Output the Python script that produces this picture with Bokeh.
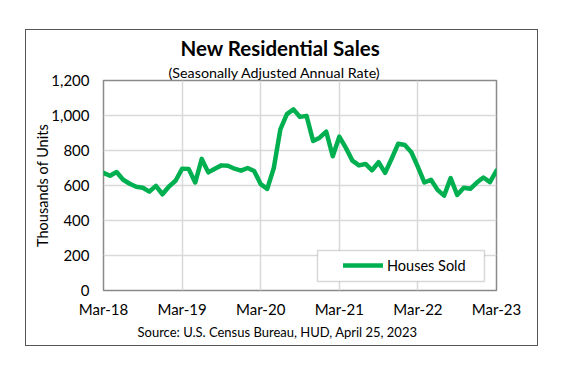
from bokeh.plotting import figure
from bokeh.models import (FixedTicker, NumeralTickFormatter, Legend,
                          BoxAnnotation, Range1d, Title)
from bokeh.embed import file_html
from bokeh.resources import INLINE

# ---- data ----
title_text = "New Residential Sales"
subtitle_text = "(Seasonally Adjusted Annual Rate)"
source_text = "Source:  U.S. Census Bureau, HUD, April 25, 2023"
series_name = "Houses Sold"
y_label = "Thousands of Units"

# monthly sales, Mar-2018 .. Mar-2023 (thousands, SAAR)
houses_sold = [
    672, 656, 677, 633, 610, 593, 587, 565, 598, 550, 594, 627,   # Mar-18..Feb-19
    696, 695, 617, 752, 675, 696, 715, 713, 696, 685, 700, 683,   # Mar-19..Feb-20
    608, 581, 700, 921, 1008, 1035, 992, 998, 854, 873, 908, 767, # Mar-20..Feb-21
    879, 815, 742, 715, 723, 687, 733, 672, 754, 839, 831, 790,   # Mar-21..Feb-22
    706, 617, 633, 575, 542, 642, 546, 587, 581, 617, 646, 619,   # Mar-22..Feb-23
    685,                                                          # Mar-23
]
month_index = list(range(len(houses_sold)))
x_tick_positions = [0, 12, 24, 36, 48, 60]
x_tick_labels = ["Mar-18", "Mar-19", "Mar-20", "Mar-21", "Mar-22", "Mar-23"]
y_ticks = [0, 200, 400, 600, 800, 1000, 1200]

FONT = "Lato"
GREEN = "#00B050"

p = figure(width=513, height=317, output_backend="svg", toolbar_location=None,
           x_range=Range1d(0, 60), y_range=Range1d(0, 1200),
           min_border_left=77, min_border_right=43, min_border_top=50,
           min_border_bottom=57, margin=(29, 0, 0, 25))
p.styles = {"border": "1px solid #555555", "box-sizing": "border-box"}

p.outline_line_color = "#8a8a8a"
p.outline_line_width = 1.5

# grids
p.xgrid.ticker = FixedTicker(ticks=x_tick_positions)
p.ygrid.ticker = FixedTicker(ticks=y_ticks)
for g in (p.xgrid, p.ygrid):
    g.grid_line_color = "#d9d9d9"
    g.grid_line_width = 1.5

# x axis
p.xaxis.ticker = FixedTicker(ticks=x_tick_positions)
p.xaxis.major_label_overrides = {pos: lab for pos, lab in zip(x_tick_positions, x_tick_labels)}
p.xaxis.axis_line_color = None
p.xaxis.major_tick_line_color = None
p.xaxis.minor_tick_line_color = None
p.xaxis.major_tick_out = 0
p.xaxis.major_tick_in = 0
p.xaxis.minor_tick_out = 0
p.xaxis.major_label_standoff = 9
p.xaxis.major_label_text_font = FONT
p.xaxis.major_label_text_font_size = "15px"
p.xaxis.major_label_text_color = "#000000"

# y axis
p.yaxis.ticker = FixedTicker(ticks=y_ticks)
p.yaxis.formatter = NumeralTickFormatter(format="0,0")
p.yaxis.axis_line_color = None
p.yaxis.major_tick_line_color = None
p.yaxis.minor_tick_line_color = None
p.yaxis.major_tick_out = 0
p.yaxis.major_tick_in = 0
p.yaxis.minor_tick_out = 0
p.yaxis.major_label_standoff = 14
p.yaxis.major_label_text_font = FONT
p.yaxis.major_label_text_font_size = "15px"
p.yaxis.major_label_text_color = "#000000"
p.yaxis.axis_label = y_label
p.yaxis.axis_label_text_font = FONT
p.yaxis.axis_label_text_font_size = "14.5px"
p.yaxis.axis_label_text_font_style = "normal"
p.yaxis.axis_label_text_color = "#000000"
p.yaxis.axis_label_standoff = -3

# data line
r = p.line(month_index, houses_sold, line_color=GREEN, line_width=4.5,
           line_join="round", line_cap="round")

# legend frame
box = BoxAnnotation(left=214, right=381, bottom=9, top=40,
                    left_units="screen", right_units="screen",
                    top_units="screen", bottom_units="screen",
                    fill_color="white", fill_alpha=1.0,
                    line_color="#7f7f7f", line_width=1.5, level="annotation")
p.add_layout(box)

legend = Legend(items=[(series_name, [r])], location=(235, 10),
                border_line_alpha=0, background_fill_alpha=0,
                padding=5, margin=0, glyph_width=40, label_standoff=4,
                label_text_font=FONT, label_text_font_size="14.5px",
                label_text_color="#000000")
p.add_layout(legend)

# titles (first added sits closest to the frame)
p.add_layout(Title(text=subtitle_text, align="left", offset=65, standoff=0,
                   text_font=FONT, text_font_size="14.3px", text_font_style="normal",
                   text_color="#000000"), "above")
p.add_layout(Title(text=title_text, align="left", offset=77, standoff=4,
                   text_font=FONT, text_font_size="20.5px", text_font_style="bold",
                   text_color="#000000"), "above")
p.add_layout(Title(text=source_text, align="left", offset=34, standoff=3,
                   text_font=FONT, text_font_size="13px", text_font_style="normal",
                   text_color="#000000"), "below")

open("out.html", "w").write(file_html(p, INLINE))
